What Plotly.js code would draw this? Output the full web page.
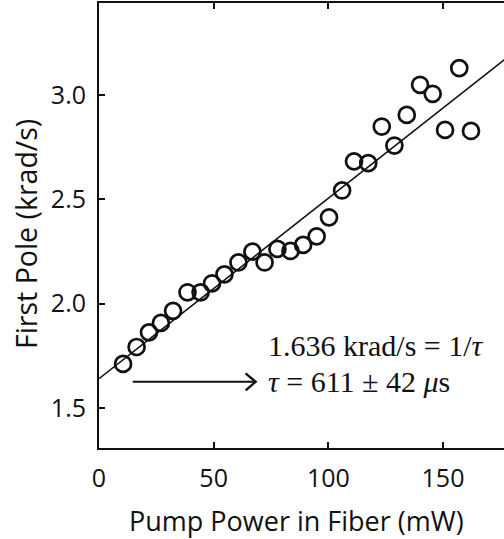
<!DOCTYPE html>
<html>
<head>
<meta charset="utf-8">
<script src="https://cdn.plot.ly/plotly-3.0.1.min.js"></script>
<style>html,body{margin:0;padding:0;background:#fff;}#chart{width:504px;height:539px;}</style>
</head>
<body>
<div id="chart"></div>
<script>
// Measured data: pump power in fiber (mW) vs first pole (krad/s)
const pumpPower = [10.5, 16.4, 21.8, 27.0, 32.3, 38.6, 44.3, 49.3, 54.7, 60.8, 66.9, 72.2, 77.8, 83.5, 89.0, 94.9, 100.3, 106.0, 111.2, 117.4, 123.3, 128.8, 134.2, 140.0, 145.5, 150.9, 157.1, 162.2];
const firstPole = [1.711, 1.792, 1.862, 1.907, 1.965, 2.054, 2.054, 2.097, 2.140, 2.197, 2.249, 2.197, 2.262, 2.252, 2.281, 2.322, 2.413, 2.542, 2.681, 2.673, 2.848, 2.757, 2.904, 3.048, 3.005, 2.832, 3.128, 2.827];
// Fit line end points
const fitPower = [0, 177];
const fitPole = [1.64, 3.17];
const xTicks = [0, 50, 100, 150];
const yTicks = [1.5, 2.0, 2.5, 3.0];
const xTitle = 'Pump Power in Fiber (mW)';
const yTitle = 'First Pole (krad/s)';

const FONT = 'Open Sans, sans-serif';
const SERIF = 'Liberation Serif, DejaVu Serif, serif';
const traces = [
  {x: fitPower, y: fitPole, mode: 'lines', line: {color: '#111', width: 1.6}, hoverinfo: 'skip'},
  {x: pumpPower, y: firstPole, mode: 'markers',
   marker: {symbol: 'circle-open', size: 16, color: '#111', line: {width: 2.7, color: '#111'}}}
];
const arrowTail = 14.7, arrowTip = 68.3, arrowY = 1.625;
const layout = {
  width: 504, height: 539,
  margin: {l: 99, r: 0, t: 3, b: 91},
  showlegend: false,
  paper_bgcolor: '#fff', plot_bgcolor: '#fff',
  font: {family: FONT, color: '#111'},
  xaxis: {
    range: [0, 176.6], tickvals: xTicks, ticktext: xTicks.map(String),
    ticks: 'inside', ticklen: 6, tickwidth: 2, tickcolor: '#111',
    showline: true, linewidth: 2, linecolor: '#111', mirror: 'ticks',
    showgrid: false, zeroline: false,
    tickfont: {size: 25, family: FONT, color: '#111'}, ticklabelstandoff: 7
  },
  yaxis: {
    range: [1.308, 3.44], tickvals: yTicks, tickformat: '.1f',
    ticks: 'inside', ticklen: 6, tickwidth: 2, tickcolor: '#111',
    showline: true, linewidth: 2, linecolor: '#111', mirror: false,
    showgrid: false, zeroline: false,
    tickfont: {size: 25, family: FONT, color: '#111'}, ticklabelstandoff: 6
  },
  shapes: [
    {type: 'line', xref: 'x', yref: 'y', x0: arrowTail, x1: arrowTip - 0.3, y0: arrowY, y1: arrowY,
     line: {color: '#111', width: 2}},
    {type: 'path', xref: 'x', yref: 'y', xsizemode: 'pixel', ysizemode: 'pixel',
     xanchor: arrowTip, yanchor: arrowY, path: 'M-10,-8.5 L0,0 L-10,8.5',
     line: {color: '#111', width: 2.4}}
  ],
  annotations: [
    {x: 0.488, y: -0.162, xref: 'paper', yref: 'paper', xanchor: 'center', yanchor: 'middle', showarrow: false,
     text: xTitle, font: {size: 27, family: FONT, color: '#111'}},
    {x: -0.18, y: 0.481, xref: 'paper', yref: 'paper', xanchor: 'center', yanchor: 'middle', showarrow: false,
     textangle: -90, text: yTitle, font: {size: 28.5, family: FONT, color: '#111'}},
    {x: 73, y: 1.80, xref: 'x', yref: 'y', xanchor: 'left', yanchor: 'middle', showarrow: false,
     text: '1.636 krad/s = 1/<i>τ</i>', font: {family: SERIF, size: 30, color: '#111'}},
    {x: 73, y: 1.627, xref: 'x', yref: 'y', xanchor: 'left', yanchor: 'middle', showarrow: false,
     text: '<i>τ</i> = 611 ± 42 <i>μ</i>s', font: {family: SERIF, size: 30, color: '#111'}}
  ]
};
Plotly.newPlot('chart', traces, layout, {staticPlot: true, displayModeBar: false});
</script>
</body>
</html>
